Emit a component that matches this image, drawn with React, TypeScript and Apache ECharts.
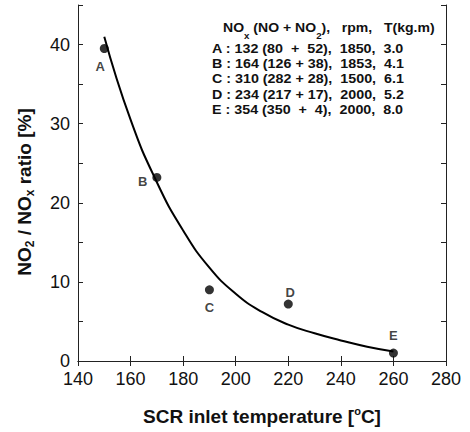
import React, { useEffect, useRef } from "react";
import * as echarts from "echarts";

const pointNames = ["A", "B", "C", "D", "E"];
const pointTemps = [150, 170, 190, 220, 260];
const pointRatios = [39.5, 23.2, 9.0, 7.2, 1.0];

const curveTemps = [150, 160, 170, 180, 190, 200, 210, 220, 230, 240, 250, 260];
const curveRatios = [41.0, 30.5, 22.6, 16.5, 11.8, 8.5, 6.2, 4.6, 3.5, 2.6, 1.8, 1.2];

const xTicks = [140, 160, 180, 200, 220, 240, 260, 280];
const yTickLabels = [0, 10, 20, 30, 40];

const legendHeader = "NO{sub|x} (NO + NO{sub|2}),   rpm,   T(kg.m)";
const legendRows = [
  "A : 132 (80  +  52),  1850,  3.0",
  "B : 164 (126 + 38),  1853,  4.1",
  "C : 310 (282 + 28),  1500,  6.1",
  "D : 234 (217 + 17),  2000,  5.2",
  "E : 354 (350  +  4),  2000,  8.0",
];

const labelPlacement: Record<string, any> = {
  A: { position: "bottom", offset: [-4, 2] },
  B: { position: "left", offset: [0, 4] },
  C: { position: "bottom", offset: [0, 2] },
  D: { position: "top", offset: [2, 4] },
  E: { position: "top", offset: [0, -2] },
};

const FONT = "'Liberation Sans', Arial, Helvetica, sans-serif";

export default function App() {
  const ref = useRef<HTMLDivElement>(null);
  useEffect(() => {
    if (!ref.current) return;
    const chart = echarts.init(ref.current, null, { renderer: "svg" });
    const axisLine = { show: true, lineStyle: { color: "#222", width: 1 } };
    const tick = { show: true, inside: true, length: 5, lineStyle: { color: "#222" } };
    const option: any = {
      animation: false,
      backgroundColor: "#fff",
      textStyle: { fontFamily: FONT },
      grid: { left: 78, right: 24, top: 5, bottom: 68, containLabel: false },
      xAxis: [
        {
          type: "value",
          min: 140,
          max: 280,
          interval: 20,
          axisLine,
          axisTick: tick,
          axisLabel: {
            color: "#111", fontSize: 18, lineHeight: 16, margin: 10, fontFamily: FONT,
            formatter: (v: number) => (xTicks.includes(v) ? String(v) : ""),
          },
          splitLine: { show: false },
          name: "SCR inlet temperature [{sup|o}C]",
          nameLocation: "middle",
          nameGap: 44,
          nameTextStyle: {
            fontSize: 19, fontWeight: "bold", color: "#111", fontFamily: FONT, lineHeight: 22,
            rich: {
              sup: { fontSize: 11, fontWeight: "bold", color: "#111", verticalAlign: "top", lineHeight: 11, padding: [0, 0, 11, 0] },
            },
          },
        },
        {
          type: "value",
          position: "top",
          min: 140,
          max: 280,
          interval: 20,
          axisLine,
          axisTick: tick,
          axisLabel: { show: false },
          splitLine: { show: false },
        },
      ],
      yAxis: [
        {
          type: "value",
          min: 0,
          max: 45,
          interval: 5,
          axisLine,
          axisTick: tick,
          axisLabel: {
            color: "#111", fontSize: 18, lineHeight: 14, margin: 8, fontFamily: FONT,
            padding: [0, 0, 3, 0],
            formatter: (v: number) => (yTickLabels.includes(v) ? String(v) : ""),
          },
          splitLine: { show: false },
        },
        {
          type: "value",
          position: "right",
          min: 0,
          max: 45,
          interval: 5,
          axisLine,
          axisTick: tick,
          axisLabel: { show: false },
          splitLine: { show: false },
        },
      ],
      graphic: [
        {
          type: "text",
          x: 24,
          y: 192,
          rotation: Math.PI / 2,
          style: {
            text: "NO{sub|2} / NO{sub|x} ratio [%]",
            align: "center",
            verticalAlign: "middle",
            fill: "#111",
            font: `bold 19px ${FONT}`,
            lineHeight: 24,
            rich: {
              sub: { fontSize: 12, fontWeight: "bold", fill: "#111", verticalAlign: "bottom", lineHeight: 12, padding: [11, 0, 0, 0] },
            },
          },
        },
        {
          type: "text",
          x: 223,
          y: 28,
          scaleX: 1.08,
          style: {
            text: legendHeader,
            verticalAlign: "middle",
            fill: "#111",
            font: `bold 13px ${FONT}`,
            lineHeight: 26,
            rich: {
              sub: { fontSize: 9, fontWeight: "bold", fill: "#111", verticalAlign: "bottom", lineHeight: 9, padding: [17, 0, 0, 0] },
            },
          },
        },
        ...legendRows.map((t, i) => ({
          type: "text",
          x: 212,
          y: 49 + i * 15.1,
          scaleX: 1.1,
          style: {
            text: t,
            verticalAlign: "middle",
            fill: "#111",
            font: `bold 13px ${FONT}`,
          },
        })),
      ],
      series: [
        {
          type: "line",
          data: curveTemps.map((t, i) => [t, curveRatios[i]]),
          smooth: true,
          showSymbol: false,
          symbol: "none",
          lineStyle: { color: "#000", width: 2 },
        },
        {
          type: "scatter",
          symbol: "circle",
          symbolSize: 9,
          itemStyle: { color: "#000" },
          data: pointTemps.map((t, i) => ({
            value: [t, pointRatios[i]],
            name: pointNames[i],
            label: {
              show: true,
              formatter: pointNames[i],
              color: "#111",
              fontSize: 13,
              fontWeight: "bold",
              fontFamily: FONT,
              ...labelPlacement[pointNames[i]],
            },
          })),
        },
      ],
    };
    chart.setOption(option);
    return () => chart.dispose();
  }, []);
  return (
    <div
      ref={ref}
      style={{ position: "absolute", left: 0, top: 0, width: 470, height: 432 }}
    />
  );
}
